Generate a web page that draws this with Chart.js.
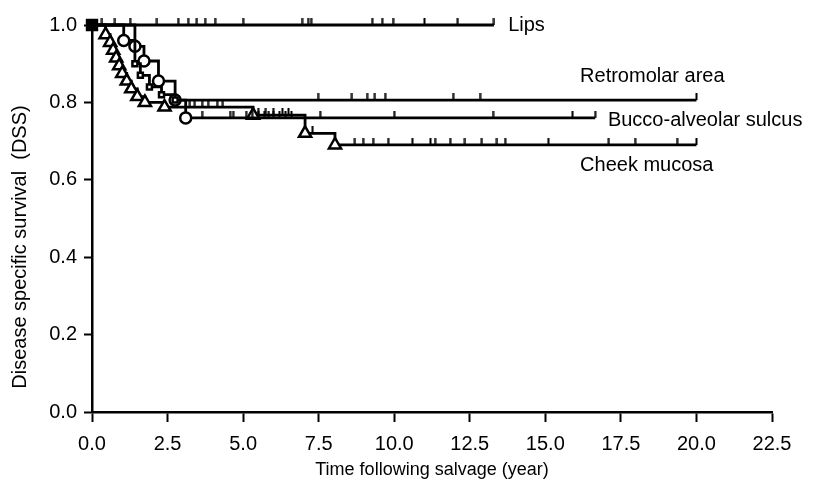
<!DOCTYPE html>
<html>
<head>
<meta charset="utf-8">
<script src="https://cdn.jsdelivr.net/npm/chart.js@4.4.1/dist/chart.umd.min.js"></script>
<style>
  html, body { margin: 0; padding: 0; background: #fff; }
  #wrap { width: 824px; height: 489px; }
</style>
</head>
<body>
<div id="wrap"><canvas id="dssChart" width="824" height="489"></canvas></div>
<script>
// Curvas de supervivencia (tiempo en años, DSS)
const lipsTime = [0, 13.3];
const lipsDSS = [1.0, 1.0];
const lipsCens = [0.33, 0.76, 1.26, 2.15, 2.85, 3.18, 3.47, 3.74, 4.07, 5.0, 6.95, 7.15, 7.25, 9.27, 9.6, 9.96, 11.0, 12.1, 13.3];

const retroTime = [0, 1.42, 1.6, 1.9, 2.3, 2.75, 20.0];
const retroDSS = [1.0, 0.90, 0.87, 0.84, 0.82, 0.806, 0.806];
const retroCens = [7.48, 8.6, 9.1, 9.36, 9.7, 11.95, 12.84, 20.0];

const buccoTime = [0, 1.05, 1.42, 1.72, 2.2, 2.75, 3.1, 16.65];
const buccoDSS = [1.0, 0.96, 0.945, 0.907, 0.855, 0.806, 0.76, 0.76];
const buccoCens = [3.64, 4.57, 4.67, 5.1, 5.3, 5.5, 5.7, 5.85, 6.0, 6.2, 6.4, 6.6, 7.55, 10.0, 13.27, 15.9, 16.65];

const cheekTime = [0, 0.45, 0.6, 0.7, 0.8, 0.9, 1.0, 1.15, 1.3, 1.5, 1.75, 2.4, 5.33, 7.05, 8.04, 20.0];
const cheekDSS = [1.0, 0.975, 0.955, 0.935, 0.915, 0.895, 0.875, 0.855, 0.835, 0.815, 0.80, 0.788, 0.767, 0.72, 0.69, 0.69];
const cheekCens = [3.24, 3.4, 3.64, 3.84, 4.14, 4.33, 5.5, 5.75, 6.0, 6.3, 6.5, 7.3, 8.7, 8.97, 9.3, 9.8, 10.6, 11.2, 11.35, 11.85, 12.34, 12.9, 13.4, 13.67, 15.1, 17.1, 17.97, 19.36, 20.0];

// Etiquetas de los ejes
const xTicks = [0, 2.5, 5, 7.5, 10, 12.5, 15, 17.5, 20, 22.5];
const yTicks = [0, 0.2, 0.4, 0.6, 0.8, 1.0];
const seriesNames = ['Lips', 'Retromolar area', 'Bucco-alveolar sulcus', 'Cheek mucosa'];

const FONT = "'Liberation Sans', Arial, sans-serif";

// marca de censura: pequeño trazo vertical sobre la línea
const censMark = document.createElement('canvas');
censMark.width = 3;
censMark.height = 14;
const cm = censMark.getContext('2d');
cm.fillStyle = '#000';
cm.fillRect(0.5, 0, 2, 7);

function toPoints(t, s) {
    return t.map((x, i) => ({ x: x, y: s[i] }));
}

// nivel de la curva en un tiempo dado (para colocar las censuras)
function levelAt(t, s, x) {
    let y = s[0];
    for (let i = 0; i < t.length; i++) {
        if (t[i] <= x) y = s[i];
    }
    return y;
}

function censPoints(t, s, c) {
    return c.map(x => ({ x: x, y: levelAt(t, s, x) }));
}

function stepCurve(t, s, style, radius, firstStyle) {
    const last = t.length - 1;
    return {
        type: 'line',
        data: toPoints(t, s),
        stepped: true,
        borderColor: '#000',
        borderWidth: 2.8,
        backgroundColor: '#fff',
        pointBorderColor: '#000',
        pointBorderWidth: 2.5,
        pointStyle: ctx => (ctx.dataIndex === 0 && firstStyle) ? firstStyle : style,
        pointRadius: ctx => {
            if (ctx.dataIndex === 0) return firstStyle ? 7 : 0;
            return ctx.dataIndex === last ? 0 : radius;
        },
        pointBackgroundColor: ctx => (ctx.dataIndex === 0 && firstStyle) ? '#000' : '#fff',
        clip: false,
        order: 2
    };
}

function censSet(t, s, c) {
    return {
        type: 'scatter',
        data: censPoints(t, s, c),
        pointStyle: censMark,
        pointRadius: 4,
        showLine: false,
        clip: false,
        order: 1
    };
}

// etiquetas de cada curva y título del eje Y
const labelPlugin = {
    id: 'seriesLabels',
    afterDraw(chart) {
        const c = chart.ctx;
        const xs = chart.scales.x;
        const ys = chart.scales.y;
        const pos = [[13.77, 1.0], [16.15, 0.866], [17.07, 0.752], [16.15, 0.638]];
        c.save();
        c.fillStyle = '#000';
        c.font = '20px ' + FONT;
        c.textBaseline = 'middle';
        c.textAlign = 'left';
        seriesNames.forEach((n, i) => {
            c.fillText(n, xs.getPixelForValue(pos[i][0]), ys.getPixelForValue(pos[i][1]));
        });
        c.translate(20, 247);
        c.rotate(-Math.PI / 2);
        c.textAlign = 'center';
        c.font = '20px ' + FONT;
        c.fillText('Disease specific survival  (DSS)', 0, 0);
        c.restore();
    }
};

new Chart(document.getElementById('dssChart'), {
    data: {
        datasets: [
            stepCurve(lipsTime, lipsDSS, 'circle', 0, 'rect'),
            stepCurve(retroTime, retroDSS, 'rect', 3.5),
            stepCurve(buccoTime, buccoDSS, 'circle', 5.5),
            stepCurve(cheekTime, cheekDSS, 'triangle', 7),
            censSet(lipsTime, lipsDSS, lipsCens),
            censSet(retroTime, retroDSS, retroCens),
            censSet(buccoTime, buccoDSS, buccoCens),
            censSet(cheekTime, cheekDSS, cheekCens)
        ]
    },
    options: {
        responsive: false,
        animation: false,
        events: [],
        layout: { padding: { top: 25, right: 52, left: 0, bottom: 0 } },
        plugins: {
            legend: { display: false },
            tooltip: { enabled: false }
        },
        scales: {
            x: {
                type: 'linear',
                min: 0,
                max: 22.5,
                afterBuildTicks: s => { s.ticks = xTicks.map(v => ({ value: v })); },
                afterFit: s => { s.height = 77; },
                ticks: {
                    color: '#000',
                    padding: 10,
                    maxRotation: 0,
                    font: { family: FONT, size: 20 },
                    callback: v => Number(v).toFixed(1)
                },
                grid: { drawOnChartArea: false, drawTicks: true, tickLength: 10, tickWidth: 2, tickColor: '#000' },
                border: { display: true, color: '#000', width: 2.5 },
                title: {
                    display: true,
                    text: 'Time following salvage (year)',
                    color: '#000',
                    font: { family: FONT, size: 18 },
                    padding: { top: 0, bottom: 8 }
                }
            },
            y: {
                type: 'linear',
                min: 0,
                max: 1,
                afterBuildTicks: s => { s.ticks = yTicks.map(v => ({ value: v })); },
                afterFit: s => { s.width = 92; },
                ticks: {
                    color: '#000',
                    padding: 7,
                    font: { family: FONT, size: 20 },
                    callback: v => Number(v).toFixed(1)
                },
                grid: { drawOnChartArea: false, drawTicks: true, tickLength: 8, tickWidth: 2, tickColor: '#000' },
                border: { display: true, color: '#000', width: 2.5 }
            }
        }
    },
    plugins: [labelPlugin]
});
</script>
</body>
</html>
